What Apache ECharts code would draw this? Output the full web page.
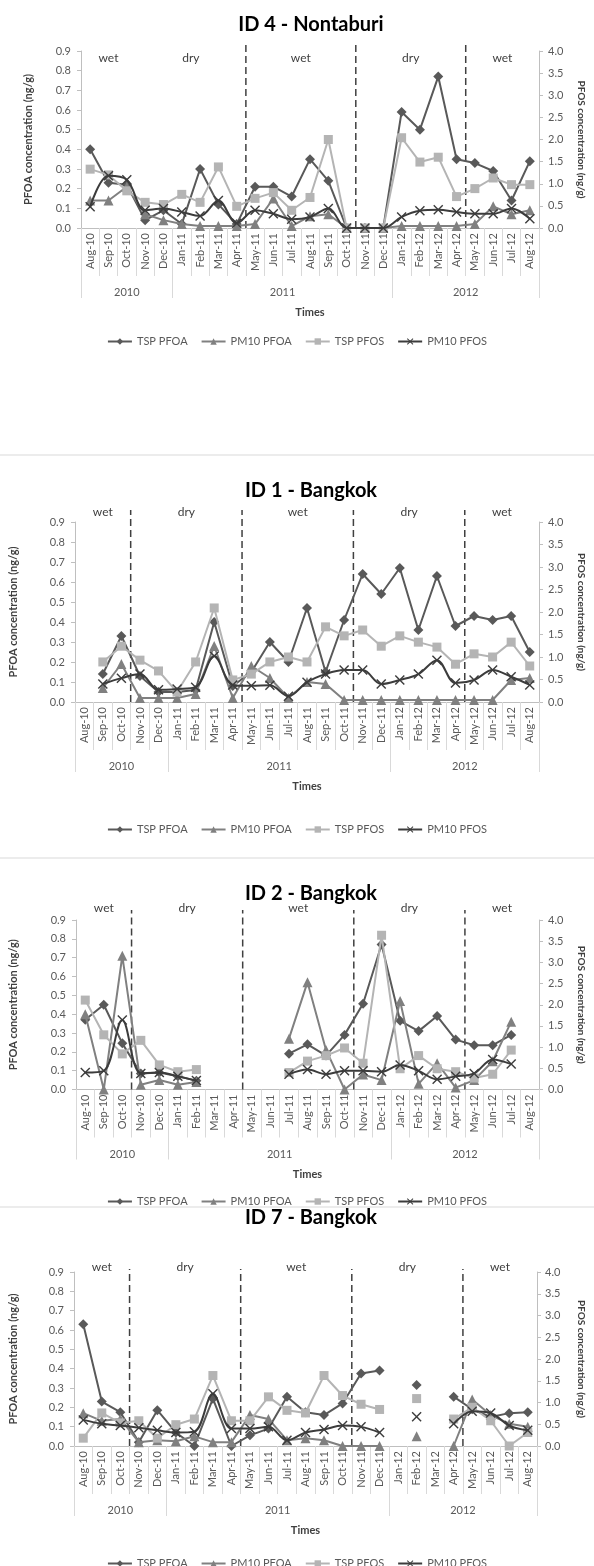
<!DOCTYPE html>
<html>
<head>
<meta charset="utf-8">
<script src="https://cdn.jsdelivr.net/npm/echarts@6/dist/echarts.min.js"></script>
<style>
  html, body { margin: 0; padding: 0; background: #ffffff; }
  #chart { width: 594px; height: 1566px; }
</style>
</head>
<body>
<div id="chart"></div>
<script>
// Sampling months and their grouping into years
const months = ['Aug-10','Sep-10','Oct-10','Nov-10','Dec-10','Jan-11','Feb-11','Mar-11','Apr-11','May-11','Jun-11','Jul-11','Aug-11','Sep-11','Oct-11','Nov-11','Dec-11','Jan-12','Feb-12','Mar-12','Apr-12','May-12','Jun-12','Jul-12','Aug-12'];
const yearNames = ['2010', '2011', '2012'];
const yearMonthCounts = [5, 12, 8];

// Season changes (month index where a new season starts) and season names
const seasonStarts = [3, 9, 15, 21];
const seasonNames = ['wet', 'dry', 'wet', 'dry', 'wet'];

const seriesNames = ['TSP PFOA', 'PM10 PFOA', 'TSP PFOS', 'PM10 PFOS'];

// ID 4 - Nontaburi  (PFOA in ng/g, left axis; PFOS in ng/g, right axis)
const id4TspPfoa  = [0.40,0.23,0.22,0.04,0.09,0.02,0.30,0.12,0.02,0.21,0.21,0.16,0.35,0.24,0,0,0,0.59,0.50,0.77,0.35,0.33,0.29,0.14,0.34];
const id4Pm10Pfoa = [0.14,0.14,0.21,0.07,0.04,0.02,0.01,0.01,0.01,0.02,0.15,0.01,0.06,0.07,0,0,0,0.01,0.01,0.01,0.01,0.02,0.11,0.07,0.09];
const id4TspPfos  = [1.33,1.20,0.84,0.58,0.53,0.76,0.58,1.38,0.49,0.67,0.80,0.40,0.69,2.00,0,0,0,2.04,1.49,1.60,0.71,0.89,1.13,0.98,0.98];
const id4Pm10Pfos = [0.48,1.18,1.09,0.40,0.44,0.36,0.27,0.62,0.11,0.40,0.32,0.20,0.25,0.44,0,0,0,0.25,0.39,0.41,0.36,0.32,0.32,0.44,0.21];

// ID 1 - Bangkok
const id1TspPfoa  = [null,0.14,0.33,0.13,0.05,0.05,0.06,0.40,0.08,0.15,0.30,0.20,0.47,0.15,0.41,0.64,0.54,0.67,0.36,0.63,0.38,0.43,0.41,0.43,0.25];
const id1Pm10Pfoa = [null,0.07,0.19,0.02,0.02,0.02,0.04,0.28,0.02,0.18,0.12,0.02,0.10,0.09,0.01,0.01,0.01,0.01,0.01,0.01,0.01,0.01,0.01,0.11,0.12];
const id1TspPfos  = [null,0.89,1.24,0.93,0.69,0.22,0.89,2.09,0.49,0.62,0.89,1.00,0.89,1.67,1.47,1.60,1.24,1.47,1.33,1.22,0.84,1.07,1.00,1.33,0.80];
const id1Pm10Pfos = [null,0.40,0.53,0.62,0.27,0.29,0.33,1.02,0.38,0.36,0.37,0.13,0.44,0.62,0.71,0.71,0.40,0.49,0.62,0.93,0.42,0.49,0.71,0.56,0.38];

// ID 2 - Bangkok
const id2TspPfoa  = [0.37,0.45,0.245,0.085,0.09,0.07,0.047,null,null,null,null,0.19,0.24,0.18,0.29,0.455,0.77,0.365,0.31,0.39,0.265,0.235,0.235,0.29,null];
const id2Pm10Pfoa = [0.40,0.0,0.71,0.025,0.05,0.025,0.04,null,null,null,null,0.27,0.57,0.21,0.0,0.08,0.05,0.47,0.03,0.14,0.01,0.05,0.15,0.36,null];
const id2TspPfos  = [2.11,1.29,0.84,1.16,0.58,0.42,0.47,null,null,null,null,0.40,0.67,0.80,0.98,0.62,3.64,0.49,0.80,0.49,0.42,0.27,0.36,0.93,null];
const id2Pm10Pfos = [0.40,0.44,1.64,0.38,0.40,0.31,0.21,null,null,null,null,0.36,0.47,0.36,0.44,0.44,0.42,0.58,0.44,0.24,0.31,0.38,0.71,0.60,null];

// ID 7 - Bangkok
const id7TspPfoa  = [0.63,0.23,0.175,0.02,0.185,0.07,0.0,0.245,0.0,0.055,0.09,0.255,0.175,0.16,0.22,0.375,0.39,null,0.315,null,0.255,0.19,0.15,0.17,0.175];
const id7Pm10Pfoa = [0.17,0.13,0.14,0.02,0.03,0.025,0.05,0.02,0.02,0.16,0.14,0.03,0.04,0.03,0.0,0.0,0.0,null,0.05,null,0.0,0.24,0.16,0.115,0.10];
const id7TspPfos  = [0.18,0.76,0.53,0.58,0.18,0.49,0.62,1.62,0.58,0.58,1.13,0.82,0.76,1.62,1.16,0.96,0.84,null,1.09,null,0.62,0.89,0.58,0.0,0.31];
const id7Pm10Pfos = [0.60,0.51,0.47,0.42,0.36,0.31,0.33,1.20,0.40,0.40,0.44,0.13,0.31,0.38,0.47,0.44,0.31,null,0.67,null,0.51,0.80,0.76,0.47,0.36];

// Left and right axis ranges
const pfoaMax = 0.9, pfoaStep = 0.1;
const pfosMax = 4.0, pfosStep = 0.5;

// ---- Presentation ----
const FONT = 'Lato, "Open Sans", sans-serif';
const styles = [
  { color: '#595959', symbol: 'diamond', size: 10, axis: 0, smooth: false },
  { color: '#808080', symbol: 'triangle', size: 10, axis: 0, smooth: false },
  { color: '#b4b4b4', symbol: 'rect', size: 9, axis: 1, smooth: false },
  { color: '#3c3c3c', symbol: 'path://M1,0L5,4L9,0L10,1L6,5L10,9L9,10L5,6L1,10L0,9L4,5L0,1Z', size: 10, axis: 1, smooth: 0.35 }
];

const panels = [
  { title: 'ID 4 - Nontaburi', data: [id4TspPfoa, id4Pm10Pfoa, id4TspPfos, id4Pm10Pfos], dashes: [9, 15, 21],
    grid: { left: 81, right: 47, top: 51, height: 177 }, titleTop: 10, legendTop: 331,
    dashExt: 8, seasonDy: 7, leftNameGap: 47, rightNameGap: 37, rightLabelMargin: 9 },
  { title: 'ID 1 - Bangkok', data: [id1TspPfoa, id1Pm10Pfoa, id1TspPfos, id1Pm10Pfos], dashes: [3, 9, 15, 21],
    grid: { left: 70, right: 47, top: 522, height: 180 }, titleTop: 476, legendTop: 819,
    dashExt: 12, seasonDy: -10, leftNameGap: 56, rightNameGap: 37, rightLabelMargin: 9 },
  { title: 'ID 2 - Bangkok', data: [id2TspPfoa, id2Pm10Pfoa, id2TspPfos, id2Pm10Pfos], dashes: [3, 9, 15, 21],
    grid: { left: 72, right: 46, top: 920, height: 169.5 }, titleTop: 879, legendTop: 1191,
    dashExt: 10, seasonDy: -12, leftNameGap: 57, rightNameGap: 37, rightLabelMargin: 9 },
  { title: 'ID 7 - Bangkok', data: [id7TspPfoa, id7Pm10Pfoa, id7TspPfos, id7Pm10Pfos], dashes: [3, 9, 15, 21],
    grid: { left: 69, right: 57, top: 1272, height: 174 }, titleTop: 1203, legendTop: 1553,
    dashExt: 3, seasonDy: -5, leftNameGap: 55, rightNameGap: 39, rightLabelMargin: 8 }
];

// Year boundaries and label positions in month units
const yearEdges = [0];
yearMonthCounts.forEach(n => yearEdges.push(yearEdges[yearEdges.length - 1] + n));
const yearCenters = yearNames.map((_, i) => (yearEdges[i] + yearEdges[i + 1]) / 2);
const seasonEdges = [0].concat(seasonStarts, [months.length]);
const seasonCenters = seasonNames.map((_, i) => (seasonEdges[i] + seasonEdges[i + 1]) / 2);

const option = {
  animation: false,
  backgroundColor: '#ffffff',
  textStyle: { fontFamily: FONT },
  title: [], grid: [], xAxis: [], yAxis: [], series: [], legend: [],
  // thin borders between the stacked panels
  graphic: [455, 858, 1207].map(y => ({
    type: 'line', shape: { x1: 0, y1: y, x2: 594, y2: y },
    style: { stroke: '#d9d9d9', lineWidth: 1 }
  }))
};

panels.forEach((p, k) => {
  option.title.push({
    text: p.title, left: 306, top: p.titleTop, textAlign: 'center',
    textStyle: { fontFamily: FONT, fontSize: 20, fontWeight: 'bold', color: '#000000' }
  });
  option.grid.push(Object.assign({ containLabel: false }, p.grid));

  // Month axis
  option.xAxis.push({
    type: 'category', gridIndex: k, data: months, boundaryGap: true, position: 'bottom',
    axisLine: { lineStyle: { color: '#bfbfbf', width: 1 } },
    axisTick: { show: true, interval: 0, alignWithLabel: false, length: 48, lineStyle: { color: '#d9d9d9' } },
    axisLabel: { interval: 0, rotate: 90, fontSize: 11, color: '#595959', margin: 5, fontFamily: FONT }
  });
  // Year grouping axis (month units)
  option.xAxis.push({
    type: 'value', gridIndex: k, min: 0, max: months.length, position: 'bottom',
    axisLine: { show: false }, splitLine: { show: false },
    axisTick: { show: true, customValues: yearEdges, length: 70, lineStyle: { color: '#d9d9d9' } },
    axisLabel: { customValues: yearCenters, fontSize: 11, color: '#595959', margin: 59, fontFamily: FONT,
      formatter: v => yearNames[yearCenters.indexOf(v)] || '' },
    name: 'Times', nameLocation: 'middle', nameGap: 79,
    nameTextStyle: { fontSize: 11, fontWeight: 'bold', color: '#404040', fontFamily: FONT }
  });

  option.yAxis.push({
    type: 'value', gridIndex: k, min: 0, max: pfoaMax, interval: pfoaStep, position: 'left',
    axisLine: { show: true, lineStyle: { color: '#bfbfbf' } },
    axisTick: { show: true, length: 4, lineStyle: { color: '#bfbfbf' } },
    splitLine: { show: false },
    axisLabel: { fontSize: 11, color: '#595959', margin: 10, formatter: v => v.toFixed(1), fontFamily: FONT },
    name: 'PFOA concentration (ng/g)', nameLocation: 'middle', nameGap: p.leftNameGap, nameRotate: 90,
    nameTextStyle: { fontSize: 11, fontWeight: 'bold', color: '#404040', fontFamily: FONT }
  });
  option.yAxis.push({
    type: 'value', gridIndex: k, min: 0, max: pfosMax, interval: pfosStep, position: 'right',
    axisLine: { show: true, lineStyle: { color: '#bfbfbf' } },
    axisTick: { show: true, length: 4, lineStyle: { color: '#bfbfbf' } },
    splitLine: { show: false },
    axisLabel: { fontSize: 11, color: '#595959', margin: p.rightLabelMargin, formatter: v => v.toFixed(1), fontFamily: FONT },
    name: 'PFOS concentration (ng/g)', nameLocation: 'middle', nameGap: p.rightNameGap, nameRotate: -90,
    nameTextStyle: { fontSize: 10, fontWeight: 'bold', color: '#404040', fontFamily: FONT }
  });

  // Season separators and season names
  option.series.push({
    type: 'custom', name: 'season-lines', xAxisIndex: 2 * k + 1, yAxisIndex: 2 * k, clip: false, silent: true, z: 1,
    data: p.dashes.map(d => [d, 0]),
    renderItem: (params, api) => {
      const x = api.value(0);
      const a = api.coord([x, 0]);
      const b = api.coord([x, pfoaMax]);
      return { type: 'line', shape: { x1: a[0], y1: a[1], x2: b[0], y2: b[1] - p.dashExt },
        style: { stroke: '#404040', lineWidth: 1.5, lineDash: [7, 4] } };
    }
  });
  option.series.push({
    type: 'custom', name: 'season-names', xAxisIndex: 2 * k + 1, yAxisIndex: 2 * k, clip: false, silent: true, z: 1,
    data: seasonCenters.map(c => [c, pfoaMax]),
    renderItem: (params, api) => {
      const pt = api.coord([api.value(0), api.value(1)]);
      return { type: 'text', x: pt[0], y: pt[1] + p.seasonDy,
        style: { text: seasonNames[params.dataIndex], fill: '#404040', font: '12px ' + FONT, align: 'center', verticalAlign: 'middle' } };
    }
  });

  // Concentration series
  p.data.forEach((vals, s) => {
    const st = styles[s];
    option.series.push({
      type: 'line', name: seriesNames[s], xAxisIndex: 2 * k, yAxisIndex: 2 * k + st.axis,
      data: vals, connectNulls: false, smooth: st.smooth,
      symbol: st.symbol, symbolSize: st.size, showAllSymbol: true,
      lineStyle: { color: st.color, width: 2 },
      itemStyle: { color: st.color, borderWidth: 0 },
      z: 3 + s
    });
  });

  option.legend.push({
    top: p.legendTop, left: 'center', data: seriesNames, itemWidth: 24, itemHeight: 8, itemGap: 13,
    selectedMode: false, textStyle: { fontSize: 11, color: '#595959', fontFamily: FONT }
  });
});

const chart = echarts.init(document.getElementById('chart'), null, { renderer: 'canvas' });
chart.setOption(option);
</script>
</body>
</html>
